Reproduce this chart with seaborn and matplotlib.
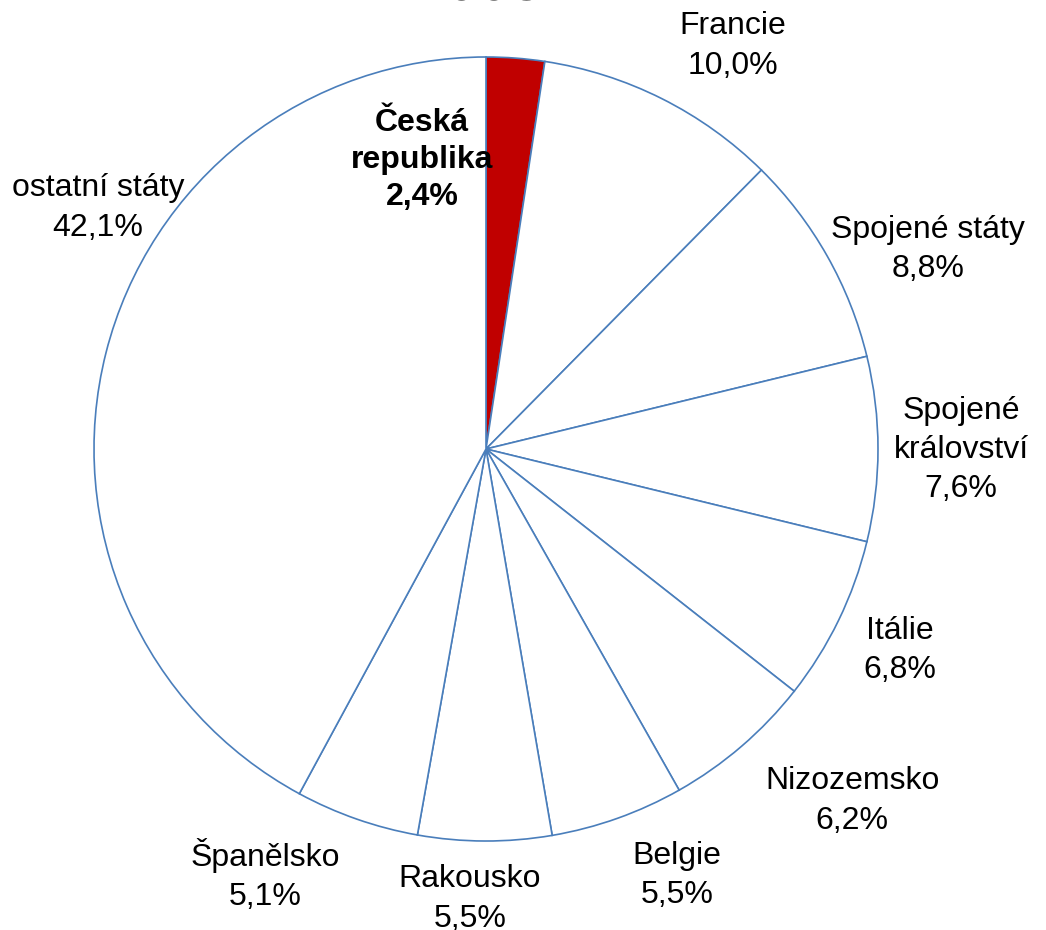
import matplotlib
matplotlib.use("Agg")
import matplotlib.pyplot as plt
import seaborn as sns
import numpy as np

# ---- data ----
countries = ["Česká\nrepublika", "Francie", "Spojené státy", "Spojené\nkrálovství",
             "Itálie", "Nizozemsko", "Belgie", "Rakousko", "Španělsko", "ostatní státy"]
shares = [2.4, 10.0, 8.8, 7.6, 6.8, 6.2, 5.5, 5.5, 5.1, 42.1]
highlight = "Česká\nrepublika"
title_text = "2008"

# ---- style ----
sns.set_theme(style="white")
plt.rcParams["font.family"] = ["Liberation Sans", "DejaVu Sans"]

edge_col = "#4A7EBB"
red = "#C00000"
colors = [red if c == highlight else "white" for c in countries]

# label anchor positions (in units of the pie radius)
label_pos = [(-0.163, 0.737), (0.63, 1.028), (1.128, 0.508), (1.212, -0.003),
             (1.056, -0.513), (0.934, -0.898), (0.487, -1.087), (-0.041, -1.148),
             (-0.564, -1.087), (-0.99, 0.615)]

fig = plt.figure(figsize=(10.46, 9.30), dpi=100)
ax = fig.add_axes([0, 0, 1, 1])

wedges, _ = ax.pie(shares, colors=colors, startangle=90, counterclock=False,
                   wedgeprops=dict(edgecolor=edge_col, linewidth=1.2))

for name, val, (lx, ly) in zip(countries, shares, label_pos):
    txt = f"{name}\n{val:.1f}%".replace(".", ",")
    bold = name == highlight
    ax.text(lx, ly, txt, ha="center", va="center", fontsize=23,
            fontweight="bold" if bold else "normal", color="black",
            linespacing=1.4 if not bold else 1.3)

ax.text(-0.02, 1.143, title_text, ha="center", va="baseline", fontsize=42,
        fontweight="bold", color="black")

ax.set_xlim(-1.2398, 1.4286)
ax.set_ylim(-1.2270, 1.1454)
ax.set_aspect("auto")
ax.axis("off")

fig.savefig("out.png", dpi=100)
